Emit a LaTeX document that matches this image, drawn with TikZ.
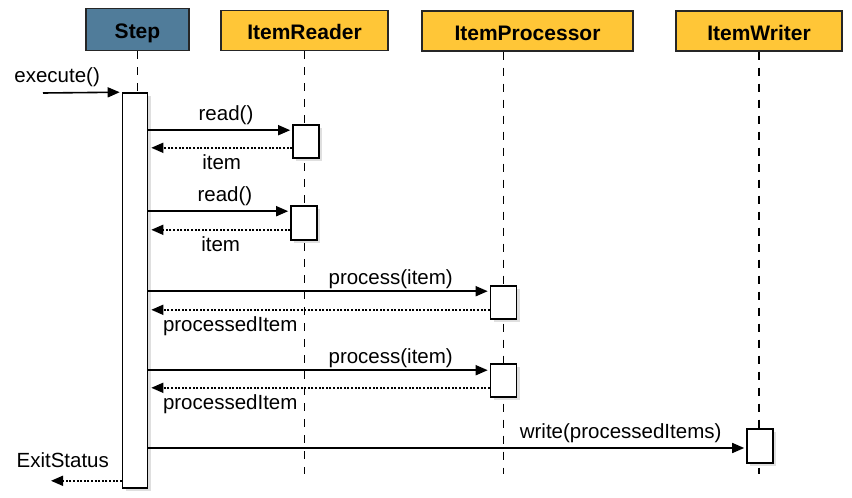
\documentclass[tikz,border=0pt]{standalone}
\usepackage{fontspec}
\setmainfont{Liberation Sans}
\usepackage{tikz}
\usetikzlibrary{arrows.meta,positioning,shadows}
\definecolor{stepblue}{RGB}{80,124,154}
\definecolor{roleyellow}{RGB}{255,198,55}
\tikzset{
  call/.style={-{Triangle[length=12pt,width=10pt]},line width=1.6pt,shorten >=2pt},
  ret/.style={-{Triangle[length=12pt,width=10pt]},line width=1.6pt,dash pattern=on 2pt off 1.6pt,shorten >=3pt},
  life/.style={line width=1.6pt,dash pattern=on 8pt off 8pt},
}

\begin{document}
\begin{tikzpicture}[x=1pt,y=-1pt,
        role/.style={rectangle, draw=black!85, line width=1.4pt, fill=roleyellow,
        minimum height=40, align=center, text height=18pt, text depth=0pt,
        font={\bfseries\fontsize{21}{25}\selectfont}},
        act/.style={rectangle, draw=black, line width=1.6pt, fill=white, minimum width=26,
        drop shadow={shadow xshift=3pt, shadow yshift=-3pt, opacity=0.25}},
        msg/.style={font={\fontsize{20.5}{24}\selectfont}, inner sep=1pt}
        ]
    \useasboundingbox (0,0) rectangle (852,498);

    \node[role, fill=stepblue, minimum width=103, minimum height=42] (step) at (137.5,29.5) {Step};
    \node[role, minimum width=167] (reader) at (304.5,30.5) {ItemReader};
    \node[role, minimum width=211] (processor) at (527.5,31) {ItemProcessor};
    \node[role, minimum width=166] (writer) at (759,31) {ItemWriter};

    \coordinate (bottom) at (0,474);
    \coordinate (exec) at (43,93);
    \coordinate (exit) at (48,480);

    % lifelines
    \draw[life] (reader.south) -- (reader.south |- bottom);
    \draw[life] ([xshift=-24pt]processor.south) -- ([xshift=-24pt]processor.south |- bottom);
    \draw[life] (writer.south) -- (writer.south |- bottom);

    % activations
    \node[act, minimum width=25, minimum height=395] (bar) at (135,290.5) {};
    \draw[life] (step.south) -- (step.south |- bar.north);
    \node[act, minimum height=33] (rd1) at (306,141.5) {};
    \node[act, minimum height=34] (rd2) at (304,223) {};
    \node[act, minimum height=33] (pr1) at (503.5,302.5) {};
    \node[act, minimum height=33] (pr2) at (503.5,380.5) {};
    \node[act, minimum height=34] (wr) at (760,446) {};

    % messages
    \draw[call] (exec) -- node[msg, above=4pt, pos=0.18] {execute()} (bar.north west);

    \draw[call] ([yshift=-6pt]rd1.north west -| bar.east) -- node[msg, above=4pt, pos=0.54] {read()} ([yshift=-6pt]rd1.north west);
    \draw[ret] ([yshift=11pt]rd1.south west) -- node[msg, below=5pt, pos=0.49] {item} ([yshift=11pt]rd1.south west -| bar.east);

    \draw[call] ([yshift=-6pt]rd2.north west -| bar.east) -- node[msg, above=4pt, pos=0.54] {read()} ([yshift=-6pt]rd2.north west);
    \draw[ret] ([yshift=11pt]rd2.south west) -- node[msg, below=5pt, pos=0.49] {item} ([yshift=11pt]rd2.south west -| bar.east);

    \draw[call] ([yshift=-6pt]pr1.north west -| bar.east) -- node[msg, above=1pt, pos=0.71] {process(item)} ([yshift=-6pt]pr1.north west);
    \draw[ret] ([yshift=10pt]pr1.south west) -- node[msg, below=5pt, pos=0.76] {processedItem} ([yshift=10pt]pr1.south west -| bar.east);

    \draw[call] ([yshift=-7pt]pr2.north west -| bar.east) -- node[msg, above=1pt, pos=0.71] {process(item)} ([yshift=-7pt]pr2.north west);
    \draw[ret] ([yshift=10pt]pr2.south west) -- node[msg, below=5pt, pos=0.76] {processedItem} ([yshift=10pt]pr2.south west -| bar.east);

    \draw[call] ([yshift=-2pt]wr.west -| bar.east) -- node[msg, above=3pt, pos=0.79] {write(processedItems)} ([yshift=-2pt]wr.west);

    \draw[ret] ([yshift=8pt]bar.south west) -- node[msg, above=11pt, pos=0.8] {ExitStatus} ([yshift=8pt]bar.south west -| exit);

  \end{tikzpicture}
\end{document}
